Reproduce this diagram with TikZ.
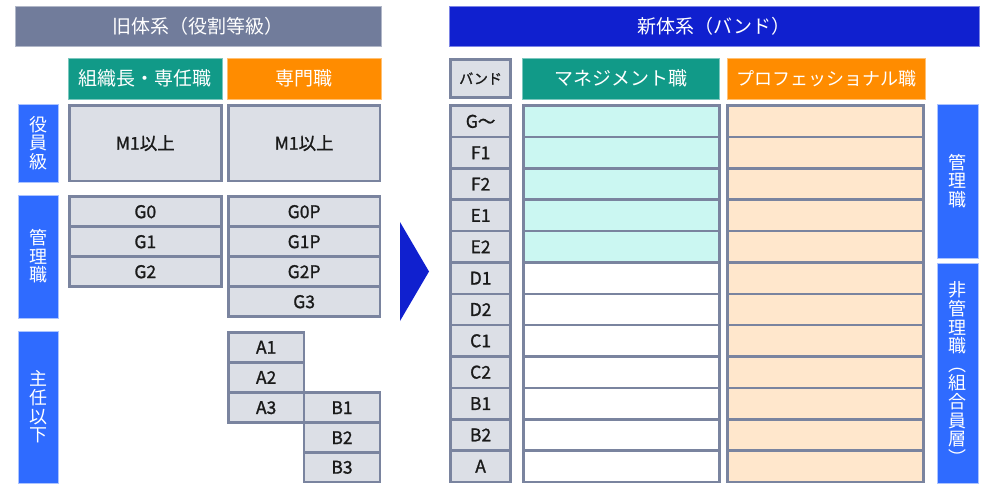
\documentclass[tikz,border=0pt]{standalone}
\usepackage{fontspec}
\setmainfont{Noto Sans CJK JP}
\newfontfamily\cellfont{Noto Sans CJK JP}[FakeBold=1.2]
\definecolor{oldhdr}{HTML}{717C9B}
\definecolor{newhdr}{HTML}{1020CF}
\definecolor{cteal}{HTML}{119A88}
\definecolor{corange}{HTML}{FF8C00}
\definecolor{cblue}{HTML}{2F6BFF}
\definecolor{cellf}{HTML}{DCDFE6}
\definecolor{cellb}{HTML}{7A849F}
\definecolor{ccyan}{HTML}{CBF7F2}
\definecolor{cpeach}{HTML}{FFE7CC}
\definecolor{ctext}{HTML}{1A1A1A}
\newcommand\bx[7]{\node[#6,minimum width={(#4)-(#2)},minimum height={(#5)-(#3)}] (#1) at ({((#2)+(#4))/2},{((#3)+(#5))/2}) {#7};}
\begin{document}
\begin{tikzpicture}[x=1pt,y=-1pt,
  hdr/.style={fill=#1, draw=#1!55!white, line width=0.8pt, text=white, font=\fontsize{19}{19}\selectfont, inner sep=0pt},
  cell/.style={fill=cellf, draw=cellb, line width=2.6pt, font=\cellfont\fontsize{17.5}{17.5}\selectfont, text=ctext, inner sep=0pt},
  vlab/.style={fill=cblue, draw=cblue!40!white, line width=0.8pt, text=white, align=center, font=\fontsize{18}{18.6}\selectfont, inner sep=0pt}]
\useasboundingbox (0,0) rectangle (984,483);
% ---------- old system ----------
\bx{oldh}{15}{6}{381}{46}{hdr=oldhdr}{旧体系（役割等級）}
\bx{colA}{68}{58}{222}{99}{hdr=cteal}{組織長・専任職}
\bx{colB}{227}{58}{381}{99}{hdr=corange}{専門職}
\bx{lab1}{18}{104}{58}{182}{vlab}{役\\員\\級}
\bx{lab2}{18}{195}{58}{318}{vlab}{管\\理\\職}
\bx{lab3}{18}{331}{58}{483}{vlab}{主\\任\\以\\下}
\bx{m1a}{69.3}{105.3}{221.3}{181}{cell}{M1以上}
\bx{m1b}{228.3}{105.3}{380}{181}{cell}{M1以上}
\bx{g0}{69.3}{196.7}{221.3}{226.7}{cell}{G0}
\bx{g1}{69.3}{226.7}{221.3}{256.7}{cell}{G1}
\bx{g2}{69.3}{256.7}{221.3}{286.7}{cell}{G2}
\bx{g0p}{228.3}{196.7}{380}{226.7}{cell}{G0P}
\bx{g1p}{228.3}{226.7}{380}{256.7}{cell}{G1P}
\bx{g2p}{228.3}{256.7}{380}{286.7}{cell}{G2P}
\bx{g3}{228.3}{286.7}{380}{316.7}{cell}{G3}
\bx{a1}{228.3}{332.3}{304}{362.2}{cell}{A1}
\bx{a2}{228.3}{362.2}{304}{392.6}{cell}{A2}
\bx{a3}{228.3}{392.6}{304}{422.7}{cell}{A3}
\bx{b1}{304}{392.6}{380}{422.7}{cell}{B1}
\bx{b2}{304}{422.7}{380}{452.6}{cell}{B2}
\bx{b3}{304}{452.6}{380}{482}{cell}{B3}
% ---------- arrow ----------
\fill[newhdr] (400,222) -- (429,271.5) -- (400,321) -- cycle;
% ---------- new system ----------
\bx{newh}{449}{6}{979}{46}{hdr=newhdr}{新体系（バンド）}
\bx{bandh}{450.5}{59.5}{510.7}{97.5}{cell, font=\cellfont\fontsize{14}{14}\selectfont}{バンド}
\bx{mgh}{522}{58}{719}{99}{hdr=cteal}{マネジメント職}
\bx{prh}{727}{58}{925}{99}{hdr=corange, font=\fontsize{18}{18}\selectfont}{プロフェッショナル職}
\foreach \t [count=\i from 0] in {G〜,F1,F2,E1,E2,D1,D2,C1,C2,B1,B2,A} {
  \pgfmathsetmacro\ya{105.7+\i*31.35}
  \pgfmathsetmacro\yb{\ya+31.35}
  \ifnum\i<5 \def\mf{ccyan}\else\def\mf{white}\fi
  \bx{band\i}{450.5}{\ya}{510.7}{\yb}{cell}{\t}
  \bx{mg\i}{523.3}{\ya}{719.3}{\yb}{cell,fill=\mf}{}
  \bx{pr\i}{727.7}{\ya}{923.5}{\yb}{cell,fill=cpeach}{}
}
\bx{rl1}{937}{104}{978}{258}{vlab}{管\\理\\職}
\bx{rl2}{937}{263}{978}{483}{vlab}{非\\管\\理\\職\\︵\\組\\合\\員\\層\\︶}
\end{tikzpicture}
\end{document}
